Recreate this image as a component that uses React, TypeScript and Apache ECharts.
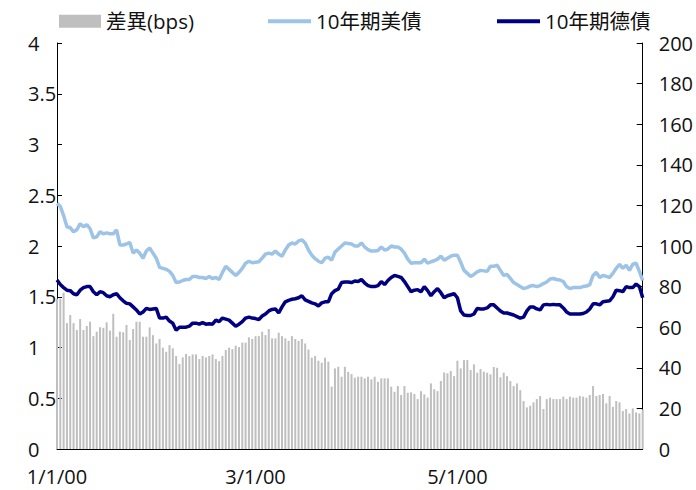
import React, { useEffect, useRef } from "react";
import * as echarts from "echarts";

// 10-year US Treasury yield (%), daily
const usYield = [
  2.42, 2.39, 2.3, 2.19, 2.18, 2.14, 2.16, 2.22, 2.19, 2.21,
  2.17, 2.08, 2.09, 2.14, 2.12, 2.13, 2.12, 2.12, 2.16, 2.01,
  2.01, 2.02, 2.035, 1.93, 1.96, 1.93, 1.88, 1.95, 1.98, 1.93,
  1.88, 1.79, 1.78, 1.77, 1.75, 1.71, 1.64, 1.645, 1.66, 1.67,
  1.67, 1.7, 1.7, 1.69, 1.69, 1.68, 1.7, 1.68, 1.69, 1.67,
  1.74, 1.8, 1.77, 1.74, 1.71, 1.74, 1.78, 1.83, 1.85, 1.835,
  1.84, 1.845, 1.88, 1.92, 1.93, 1.92, 1.95, 1.92, 1.9, 1.96,
  2.01, 2.03, 2.02, 2.05, 2.06, 2.03, 1.96, 1.91, 1.875, 1.85,
  1.835, 1.88, 1.89, 1.86, 1.94, 1.97, 2.0, 2.03, 2.025, 2.02, 2.0,
  2.0, 2.03, 1.99, 1.965, 1.95, 1.95, 1.955, 1.99, 1.96, 1.97,
  2.0, 1.99, 1.99, 1.97, 1.93, 1.87, 1.83, 1.835, 1.835, 1.835,
  1.87, 1.83, 1.845, 1.855, 1.87, 1.9, 1.86, 1.88, 1.9, 1.91,
  1.91, 1.84, 1.76, 1.73, 1.7, 1.72, 1.745, 1.76, 1.755, 1.75,
  1.8, 1.8, 1.81, 1.76, 1.71, 1.72, 1.68, 1.64, 1.62, 1.6,
  1.58, 1.59, 1.605, 1.61, 1.6, 1.61, 1.63, 1.645, 1.675, 1.68,
  1.67, 1.665, 1.65, 1.6, 1.58, 1.59, 1.59, 1.59, 1.6, 1.605,
  1.62, 1.71, 1.74, 1.69, 1.71, 1.7, 1.69, 1.73, 1.78, 1.82,
  1.78, 1.81, 1.76, 1.82, 1.83, 1.75, 1.66,
];

// 10-year German Bund yield (%), daily
const deYield = [
  1.665, 1.62, 1.59, 1.565, 1.56, 1.53, 1.52, 1.565, 1.59, 1.6,
  1.6, 1.55, 1.52, 1.55, 1.54, 1.51, 1.5, 1.52, 1.53, 1.49,
  1.46, 1.435, 1.43, 1.4, 1.37, 1.33, 1.35, 1.385, 1.375, 1.38,
  1.385, 1.29, 1.29, 1.3, 1.26, 1.24, 1.17, 1.2, 1.2, 1.2,
  1.21, 1.24, 1.24, 1.23, 1.245, 1.23, 1.235, 1.23, 1.27, 1.255,
  1.29, 1.28, 1.27, 1.24, 1.21, 1.23, 1.255, 1.29, 1.3, 1.29,
  1.285, 1.275, 1.31, 1.33, 1.36, 1.375, 1.38, 1.34, 1.4, 1.45,
  1.465, 1.475, 1.48, 1.49, 1.51, 1.47, 1.455, 1.44, 1.43, 1.41,
  1.44, 1.45, 1.45, 1.53, 1.56, 1.575, 1.64, 1.645, 1.645, 1.64, 1.655,
  1.65, 1.67, 1.635, 1.61, 1.6, 1.6, 1.61, 1.65, 1.62, 1.66,
  1.69, 1.71, 1.7, 1.69, 1.65, 1.6, 1.55, 1.565, 1.57, 1.55,
  1.6, 1.56, 1.51, 1.55, 1.58, 1.54, 1.49, 1.51, 1.52, 1.53,
  1.49, 1.36, 1.32, 1.315, 1.315, 1.33, 1.385, 1.38, 1.38, 1.39,
  1.42, 1.42, 1.39, 1.36, 1.34, 1.34, 1.33, 1.32, 1.305, 1.29,
  1.3, 1.36, 1.4, 1.4, 1.38, 1.37, 1.42, 1.425, 1.42, 1.425,
  1.42, 1.42, 1.39, 1.35, 1.33, 1.33, 1.33, 1.33, 1.335, 1.35,
  1.38, 1.43, 1.43, 1.42, 1.45, 1.455, 1.46, 1.5, 1.565, 1.56,
  1.55, 1.6, 1.59, 1.59, 1.625, 1.6, 1.49,
];

// US minus German spread (bps), daily
const spreadBps = [
  74, 74, 77, 62, 66, 62, 58.6, 64, 58.6, 60.6,
  62.7, 55.6, 57.8, 60, 59.7, 62.4, 58.3, 66.6, 55.3, 57.8,
  57.5, 61.1, 53.7, 59.1, 62.7, 62.7, 55.3, 55.3, 59.9, 56.1,
  52.0, 54.2, 49.9, 47.9, 51.2, 49.6, 45.8, 41.9, 45.1, 46.8,
  45.8, 46.6, 46.6, 44.3, 45.8, 45.1, 45.8, 46.6, 44.3, 43.3,
  45.8, 48.8, 49.9, 49.2, 50.9, 50.2, 52.4, 52.4, 55.0, 54.2,
  55.6, 55.6, 57.8, 56.1, 59.1, 54.5, 54.5, 57.3, 55.6, 54.5,
  53.3, 55.6, 54.2, 53.3, 54.2, 52.0, 49.0, 45.0, 45.8, 43.5,
  42.5, 45.0, 43.0, 30.7, 39.7, 40.5, 35.6, 40.5, 38.0, 36.9, 35.1,
  35.6, 35.6, 34.8, 35.6, 34.3, 35.6, 33.1, 34.8, 34.8, 34.8,
  30.7, 28.2, 31.0, 26.6, 31.0, 27.7, 27.9, 27.1, 24.6, 28.5,
  26.9, 25.3, 32.3, 29.4, 28.5, 33.5, 37.7, 37.3, 38.4, 35.9,
  43.5, 39.7, 43.8, 43.8, 38.9, 41.7, 37.6, 39.4, 38.1, 37.6,
  36.8, 40.4, 40.0, 35.3, 37.6, 35.9, 33.5, 31.0, 32.3, 29.0,
  23.6, 20.5, 21.3, 23.0, 24.6, 26.1, 19.7, 24.6, 25.3, 24.6,
  24.6, 24.6, 25.8, 24.6, 25.8, 25.3, 25.3, 26.1, 25.8, 25.3,
  26.6, 31.0, 26.1, 26.6, 27.1, 22.5, 26.1, 20.8, 23.6, 23.0,
  18.7, 19.7, 17.5, 20.0, 18.0, 17.5, 19.5,
];

// One category per calendar day starting 1 Jan 2000, labelled M/D/YY
const dates = usYield.map((_, i) => {
  const d = new Date(2000, 0, 1 + i);
  return `${d.getMonth() + 1}/${d.getDate()}/${String(d.getFullYear()).slice(2)}`;
});

// Month starts that carry a label and a tick on the date axis
const labelledDates = ["1/1/00", "3/1/00", "5/1/00"];
const showDate = (index: number) => labelledDates.includes(dates[index]);

const FONT = "'Open Sans', 'Noto Sans CJK TC', sans-serif";
const TEXT = "#111";

export default function App() {
  const ref = useRef<HTMLDivElement>(null);

  useEffect(() => {
    if (!ref.current) return;
    const chart = echarts.init(ref.current, undefined, { renderer: "svg" });
    const legendText = { fontSize: 20.5, color: TEXT, fontFamily: FONT };
    const axisText = { fontSize: 20, color: TEXT, fontFamily: FONT, lineHeight: 18 };
    chart.setOption({
      animation: false,
      backgroundColor: "#fff",
      textStyle: { fontFamily: FONT },
      grid: { left: 57, right: 52, top: 43, bottom: 41, containLabel: false },
      legend: [
        {
          data: ["差異(bps)"],
          left: 54,
          top: 6,
          icon: "rect",
          itemWidth: 42,
          itemHeight: 13,
          textStyle: legendText,
        },
        {
          data: ["10年期美債"],
          left: 263,
          top: 6,
          icon: "rect",
          itemWidth: 43,
          itemHeight: 4,
          textStyle: legendText,
        },
        {
          data: ["10年期德債"],
          left: 492,
          top: 6,
          icon: "rect",
          itemWidth: 43,
          itemHeight: 4,
          textStyle: legendText,
        },
      ],
      xAxis: {
        type: "category",
        data: dates,
        boundaryGap: false,
        axisLine: { show: true, lineStyle: { color: "#000", width: 1 } },
        axisTick: { show: true, inside: true, length: 6, interval: showDate, lineStyle: { color: "#000" } },
        axisLabel: { interval: showDate, margin: 18, ...axisText },
        splitLine: { show: false },
      },
      yAxis: [
        {
          type: "value",
          min: 0,
          max: 4,
          interval: 0.5,
          axisLine: { show: true, lineStyle: { color: "#000", width: 1 } },
          axisTick: { show: true, inside: true, length: 5, lineStyle: { color: "#000" } },
          axisLabel: { align: "left", margin: 29, ...axisText },
          splitLine: { show: false },
        },
        {
          type: "value",
          min: 0,
          max: 200,
          interval: 20,
          position: "right",
          axisLine: { show: true, lineStyle: { color: "#000", width: 1 } },
          axisTick: { show: true, inside: true, length: 6, lineStyle: { color: "#000" } },
          axisLabel: { align: "left", margin: 16, ...axisText },
          splitLine: { show: false },
        },
      ],
      series: [
        {
          name: "差異(bps)",
          type: "bar",
          yAxisIndex: 1,
          data: spreadBps,
          barWidth: 2,
          itemStyle: { color: "#BFBFBF" },
          z: 1,
        },
        {
          name: "10年期美債",
          type: "line",
          yAxisIndex: 0,
          data: usYield,
          symbol: "none",
          lineStyle: { color: "#9DC3E6", width: 3.5 },
          itemStyle: { color: "#9DC3E6" },
          z: 2,
        },
        {
          name: "10年期德債",
          type: "line",
          yAxisIndex: 0,
          data: deYield,
          symbol: "none",
          lineStyle: { color: "#000080", width: 3.5 },
          itemStyle: { color: "#000080" },
          z: 3,
        },
      ],
    });
    return () => chart.dispose();
  }, []);

  return (
    <div
      ref={ref}
      style={{ position: "fixed", left: 0, top: 0, width: 696, height: 490, background: "#fff" }}
    />
  );
}
